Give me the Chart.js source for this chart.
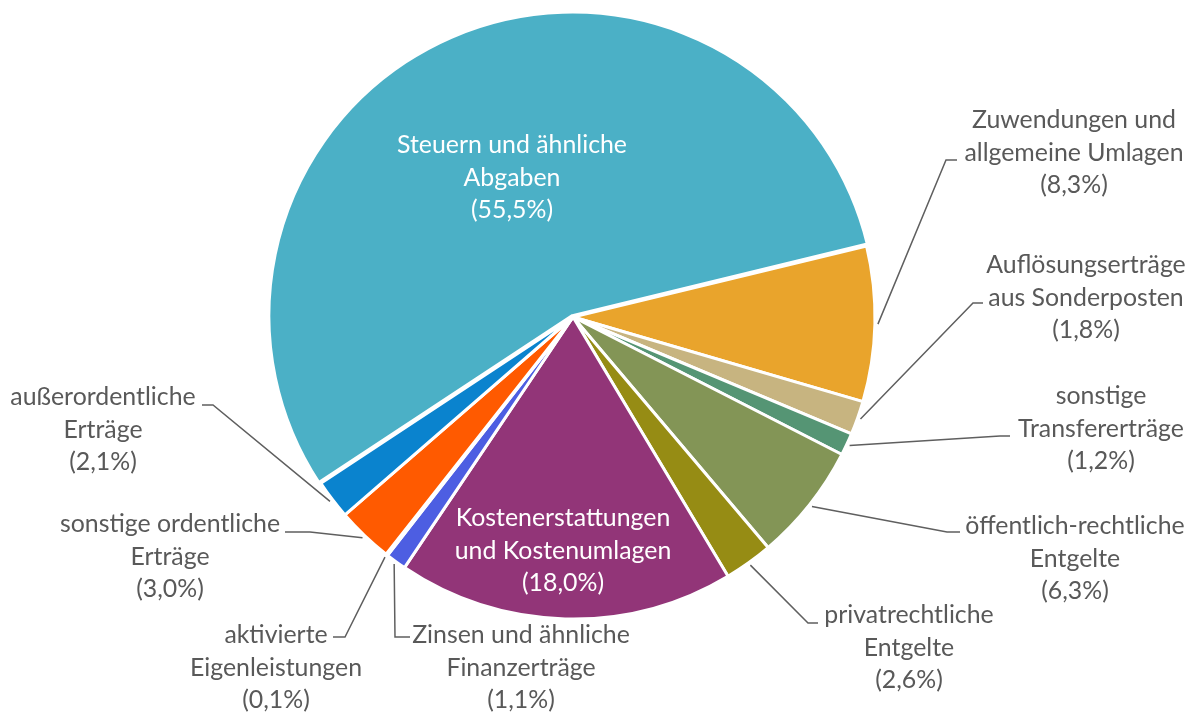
<!DOCTYPE html>
<html lang="de">
<head>
<meta charset="utf-8">
<script src="https://cdn.jsdelivr.net/npm/chart.js@4.4.1/dist/chart.umd.min.js"></script>
<style>
  html, body { margin: 0; padding: 0; background: #fff; }
  #pie { display: block; }
</style>
</head>
<body>
<canvas id="pie" width="1189" height="713"></canvas>
<script>
// slice names (already broken into the lines shown on the chart)
const categories = [
  ['Steuern und ähnliche', 'Abgaben'],
  ['Zuwendungen und', 'allgemeine Umlagen'],
  ['Auflösungserträge', 'aus Sonderposten'],
  ['sonstige', 'Transfererträge'],
  ['öffentlich-rechtliche', 'Entgelte'],
  ['privatrechtliche', 'Entgelte'],
  ['Kostenerstattungen', 'und Kostenumlagen'],
  ['Zinsen und ähnliche', 'Finanzerträge'],
  ['aktivierte', 'Eigenleistungen'],
  ['sonstige ordentliche', 'Erträge'],
  ['außerordentliche', 'Erträge']
];
// shares in percent
const shares = [55.5, 8.3, 1.8, 1.2, 6.3, 2.6, 18.0, 1.1, 0.1, 3.0, 2.1];

const sliceColors = [
  '#4BB0C6', '#E9A42C', '#C7B480', '#559574', '#839556', '#968C14',
  '#923578', '#4D5EE2', '#8C8C8C', '#FF5A00', '#0A83CE'
];

// where each label sits on the canvas (text centre x, first line y),
// and for outside labels the elbow of the leader line and the end of its stub
const labelLayout = [
  { inside: true, x: 512, y: 145 },
  { x: 1074, y: 120, elbow: [946, 160], stub: 957 },
  { x: 1086, y: 265, elbow: [973, 303], stub: 983 },
  { x: 1101, y: 396, elbow: [1000, 436], stub: 1010 },
  { x: 1075, y: 526, elbow: [947, 532], stub: 960 },
  { x: 909, y: 615, elbow: [808, 623], stub: 818 },
  { inside: true, x: 563, y: 518 },
  { x: 521, y: 635, elbow: [395, 637], stub: 410 },
  { x: 276, y: 635, elbow: [345, 637], stub: 333 },
  { x: 170, y: 524, elbow: [310, 532], stub: 285 },
  { x: 103, y: 397, elbow: [213, 405], stub: 202 }
];

const FONT_FAMILY = 'Lato, "Open Sans", sans-serif';
const LINE_H = 32.7;
const fmtPct = v => '(' + v.toFixed(1).replace('.', ',') + '%)';

const sliceLabels = {
  id: 'sliceLabels',
  afterDatasetsDraw(chart) {
    const ctx = chart.ctx;
    const meta = chart.getDatasetMeta(0);
    ctx.save();
    // size the font so the widest inside line matches the original width
    ctx.font = '20px ' + FONT_FAMILY;
    const size = 20 * 230 / ctx.measureText('Steuern und ähnliche').width;
    ctx.font = size.toFixed(2) + 'px ' + FONT_FAMILY;
    ctx.textAlign = 'center';
    ctx.textBaseline = 'middle';
    ctx.lineWidth = 1.5;
    ctx.strokeStyle = '#5f5f5f';

    meta.data.forEach((arc, i) => {
      const lay = labelLayout[i];
      const lines = categories[i].concat(fmtPct(shares[i]));
      if (!lay.inside) {
        const mid = (arc.startAngle + arc.endAngle) / 2;
        const r = arc.outerRadius + 3;
        ctx.beginPath();
        ctx.moveTo(arc.x + Math.cos(mid) * r, arc.y + Math.sin(mid) * r);
        ctx.lineTo(lay.elbow[0], lay.elbow[1]);
        ctx.lineTo(lay.stub, lay.elbow[1]);
        ctx.stroke();
      }
      ctx.fillStyle = lay.inside ? '#ffffff' : '#595959';
      lines.forEach((t, k) => ctx.fillText(t, lay.x, lay.y + k * LINE_H));
    });
    ctx.restore();
  }
};

new Chart(document.getElementById('pie'), {
  type: 'pie',
  data: {
    labels: categories.map(c => c.join(' ')),
    datasets: [{
      data: shares,
      backgroundColor: sliceColors,
      borderColor: '#ffffff',
      borderWidth: 3,
      offset: [6, 0, 0, 0, 0, 0, 0, 0, 0, 0, 0],
      radius: 302
    }]
  },
  options: {
    responsive: false,
    animation: false,
    rotation: -123.4,
    layout: { padding: { left: 0, right: 43, top: 0, bottom: 79 } },
    plugins: {
      legend: { display: false },
      tooltip: { enabled: false }
    }
  },
  plugins: [sliceLabels]
});
</script>
</body>
</html>
